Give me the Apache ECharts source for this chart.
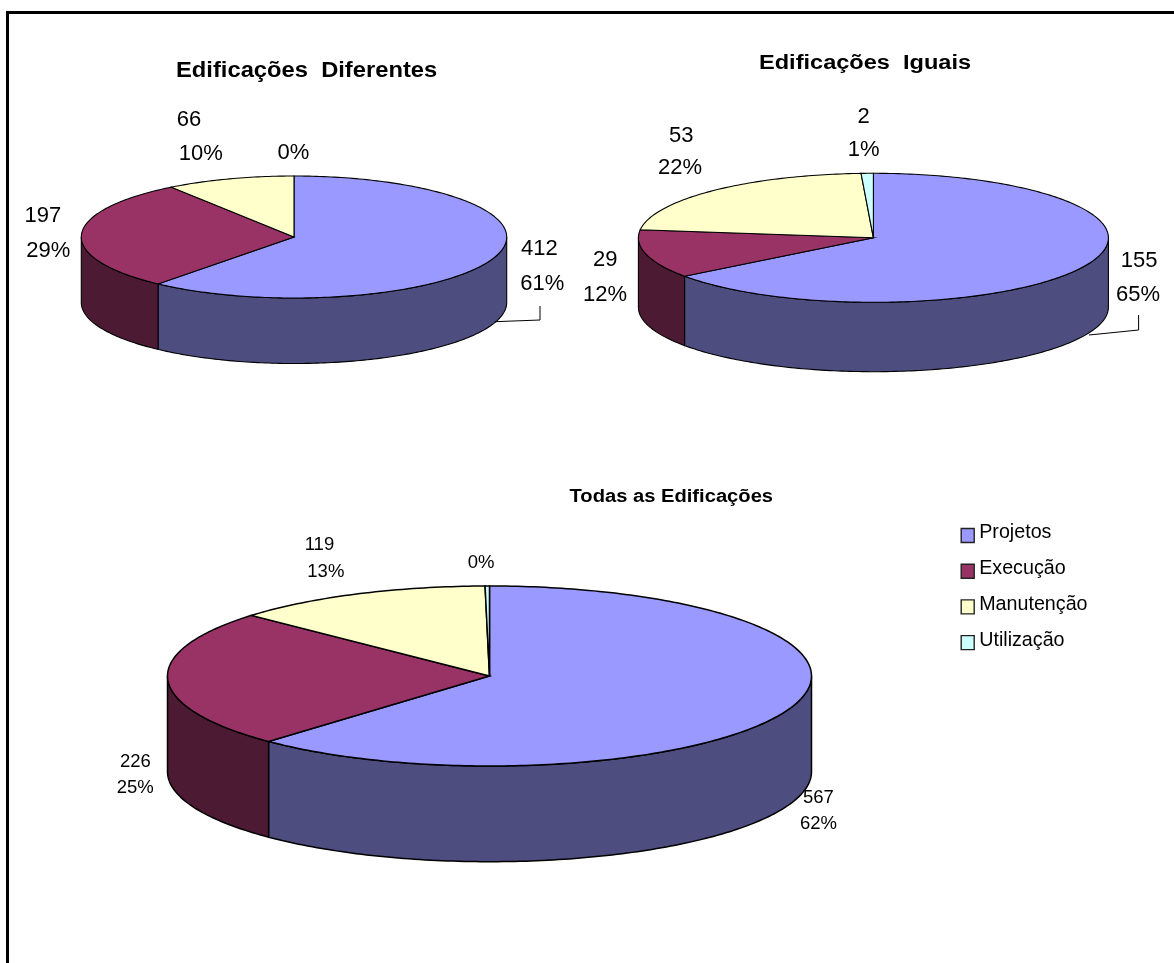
<!DOCTYPE html>
<html>
<head>
<meta charset="utf-8">
<style>html,body{margin:0;padding:0;background:#fff}#c{width:1174px;height:963px}</style>
<script src="https://cdn.jsdelivr.net/npm/echarts@6/dist/echarts.min.js"></script>
</head>
<body>
<div id="c"></div>
<script>
const categories = ['Projetos', 'Execução', 'Manutenção', 'Utilização'];
const valuesDiferentes = [412, 197, 66, 0];
const valuesIguais = [155, 29, 53, 2];
const valuesTodas = [567, 226, 119, 2];
const shownDiferentes = ['412', '197', '66', ''];
const shownIguais = ['155', '29', '53', '2'];
const shownTodas = ['567', '226', '119', ''];
const topColors = ['#9999FF', '#993366', '#FFFFCC', '#CCFFFF'];
const wallColors = ['#4D4D80', '#4D1A33', '#808066', '#668080'];

const FONT = '"Liberation Sans", Arial, sans-serif';
const pies = [
  { values: valuesDiferentes, shown: shownDiferentes, cx: 294, cy: 237, rx: 212.7, ry: 61, depth: 65.5, lw: 1.1, fs: 22,
    pos: [[[521, 249.3], [520.3, 284]], [[24.5, 216], [26.3, 250.7]], [[176.8, 120], [178.7, 154.3]], [[0, 0], [277.6, 152.7]]] },
  { values: valuesIguais, shown: shownIguais, cx: 873.4, cy: 237.8, rx: 235, ry: 64.5, depth: 69.4, lw: 1.1, fs: 22,
    pos: [[[1120.7, 261], [1116, 295]], [[593, 260], [583, 295]], [[669, 135.7], [658, 168.3]], [[857.4, 117.3], [847.7, 150]]] },
  { values: valuesTodas, shown: shownTodas, cx: 489.5, cy: 676, rx: 322, ry: 90, depth: 95.7, lw: 1.5, fs: 18.5,
    pos: [[[803, 798], [800, 824]], [[120, 761.7], [116.7, 788.3]], [[304.7, 545], [307.3, 571.7]], [[0, 0], [467.7, 563.3]]] }
];
const titles = [
  { text: 'Edificações  Diferentes', x: 176, y: 71, fs: 22.5, sx: 1.055 },
  { text: 'Edificações  Iguais', x: 759, y: 63, fs: 20, sx: 1.178 },
  { text: 'Todas as Edificações', x: 569.5, y: 497, fs: 18, sx: 1.12 }
];
const leaders = [
  [[494.7, 321.7], [540, 320], [540, 306]],
  [[1089, 335], [1138.6, 330], [1138.6, 315]]
];

function makeRender(pie, j) {
  const total = pie.values.reduce((a, b) => a + b, 0);
  const before = pie.values.slice(0, j).reduce((a, b) => a + b, 0);
  return function (params, api) {
    const v = api.value(0);
    const a0 = echarts.number.linearMap(before, [0, total], [0, Math.PI * 2]);
    const a1 = echarts.number.linearMap(before + v, [0, total], [0, Math.PI * 2]);
    const pt = (a, d) => [pie.cx + pie.rx * Math.sin(a), pie.cy - pie.ry * Math.cos(a) + (d || 0)];
    const arc = (s, e, d) => {
      const n = Math.max(2, Math.ceil((e - s) / (Math.PI / 180)));
      const out = [];
      for (let k = 0; k <= n; k++) out.push(pt(s + (e - s) * k / n, d));
      return out;
    };
    const children = [];
    if (v > 0) {
      const ws = Math.max(a0, Math.PI / 2), we = Math.min(a1, Math.PI * 1.5);
      if (we > ws) {
        children.push({
          type: 'polygon',
          shape: { points: arc(ws, we, 0).concat(arc(ws, we, pie.depth).reverse()) },
          style: { fill: wallColors[j], stroke: '#000', lineWidth: pie.lw }
        });
      }
      children.push({
        type: 'polygon',
        shape: { points: [[pie.cx, pie.cy]].concat(arc(a0, a1, 0)) },
        style: { fill: topColors[j], stroke: '#000', lineWidth: pie.lw }
      });
    }
    const pct = Math.round(v / total * 100) + '%';
    const texts = [pie.shown[j], pct];
    texts.forEach((t, k) => {
      if (!t) return;
      children.push({
        type: 'text', x: pie.pos[j][k][0], y: pie.pos[j][k][1],
        style: { text: t, fill: '#000', font: pie.fs + 'px ' + FONT, textAlign: 'left', textVerticalAlign: 'middle' }
      });
    });
    return { type: 'group', children };
  };
}

const series = [];
pies.forEach(pie => {
  categories.forEach((name, j) => {
    series.push({
      type: 'custom', name, coordinateSystem: 'none', silent: true,
      itemStyle: { color: topColors[j] },
      data: [[pie.values[j]]],
      renderItem: makeRender(pie, j)
    });
  });
});

const graphic = [
  { type: 'polyline', shape: { points: [[7.5, 963], [7.5, 12.5], [1174, 12.5]] }, style: { stroke: '#000', lineWidth: 3, fill: null } }
].concat(leaders.map(p => ({
  type: 'polyline', z: 10, shape: { points: p }, style: { stroke: '#000', lineWidth: 1, fill: null }
}))).concat(titles.map(t => ({
  type: 'text', x: t.x, y: t.y, scaleX: t.sx, originX: 0, originY: 0,
  style: { text: t.text, fill: '#000', font: 'bold ' + t.fs + 'px ' + FONT, textAlign: 'left', textVerticalAlign: 'middle' }
})));

const chart = echarts.init(document.getElementById('c'), null, { renderer: 'canvas' });
chart.setOption({
  animation: false,
  backgroundColor: '#fff',
  legend: {
    data: categories, orient: 'vertical', left: 960.5, top: 523, padding: 0, itemGap: 15.5,
    itemWidth: 13, itemHeight: 14, itemSymbolGap: 4, selectedMode: false, icon: 'rect', align: 'left',
    itemStyle: { borderColor: '#222', borderWidth: 1.4 },
    formatter: name => '{t|' + name + '}',
    textStyle: {
      rich: { t: { fontFamily: FONT, fontSize: 19.7, color: '#000', padding: [0, 0, 5, 0] } }
    }
  },
  graphic,
  series
});
</script>
</body>
</html>
